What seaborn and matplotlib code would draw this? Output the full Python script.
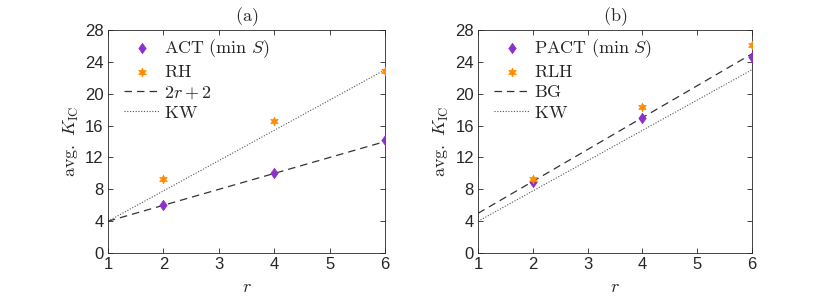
import matplotlib
matplotlib.use("Agg")
import matplotlib.pyplot as plt
import seaborn as sns
import pandas as pd

# ---- data ----
r_vals = [2, 4, 6]
act_min_s = [6.0, 10.0, 14.2]
rh = [9.3, 16.6, 22.9]
pact_min_s = [8.9, 16.9, 24.6]
rlh = [9.3, 18.3, 26.1]
line_r = [1, 6]
two_r_plus_2 = [4, 14]
kw = [4, 23]
bg = [5, 25]

x_ticks = [1, 2, 3, 4, 5, 6]
y_ticks = [0, 4, 8, 12, 16, 20, 24, 28]

sns.set_theme(style="white")
plt.rcParams["mathtext.fontset"] = "cm"
plt.rcParams["font.family"] = ["Liberation Sans", "DejaVu Sans"]

purple = "#8E2FCB"
orange = "#FF8C00"
edge = "#262626"
diamond = [(0, 1), (0.72, 0), (0, -1), (-0.72, 0), (0, 1)]

fig = plt.figure(figsize=(8.3, 3.05), dpi=100)
ax_a = fig.add_axes([0.130, 0.170, 0.334, 0.732])
ax_b = fig.add_axes([0.576, 0.170, 0.330, 0.732])

def panel(ax, pts1, lab1, pts2, lab2, dash_vals, dash_lab, title):
    df1 = pd.DataFrame({"r": r_vals, "v": pts1})
    df2 = pd.DataFrame({"r": r_vals, "v": pts2})
    dfd = pd.DataFrame({"r": line_r, "v": dash_vals})
    dfk = pd.DataFrame({"r": line_r, "v": kw})
    sns.lineplot(data=dfd, x="r", y="v", ax=ax, color="#333333", lw=0.9,
                 linestyle=(0, (6, 4)), label=dash_lab, zorder=2)
    sns.lineplot(data=dfk, x="r", y="v", ax=ax, color="#555555", lw=0.8,
                 linestyle=(0, (1, 1.5)), label=r"$\mathrm{KW}$", zorder=2)
    sns.scatterplot(data=df1, x="r", y="v", ax=ax, marker=diamond, color=purple,
                    s=55, edgecolor=purple, linewidth=0.5, label=lab1, zorder=3)
    sns.scatterplot(data=df2, x="r", y="v", ax=ax, marker=(6, 1, 0), color=orange,
                    s=40, edgecolor=orange, linewidth=0.5, label=lab2, zorder=3)
    ax.set_xlim(1, 6)
    ax.set_ylim(0, 28)
    ax.set_xticks(x_ticks)
    ax.set_yticks(y_ticks)
    ax.tick_params(direction="in", length=3.5, width=0.6, colors=edge,
                   labelsize=12, top=True, right=True, bottom=True, left=True,
                   labelcolor="#262626", pad=3)
    for s in ax.spines.values():
        s.set_color(edge)
        s.set_linewidth(0.6)
    ax.set_xlabel(r"$r$", fontsize=13, labelpad=5)
    ax.set_ylabel(r"$\mathrm{avg.}\ K_{\mathrm{IC}}$", fontsize=13, labelpad=3)
    ax.set_title(title, fontsize=13, pad=6)
    h, l = ax.get_legend_handles_labels()
    order = [2, 3, 0, 1]
    ax.legend([h[i] for i in order], [l[i] for i in order], loc="upper left",
              frameon=False, fontsize=13, handlelength=2.0, handletextpad=0.2,
              labelspacing=0.2, borderaxespad=0.5, bbox_to_anchor=(0.0, 1.04))

panel(ax_a, act_min_s, r"$\mathrm{ACT\ (min\ }S\mathrm{)}$", rh, r"$\mathrm{RH}$",
      two_r_plus_2, r"$2r+2$", r"$\mathrm{(a)}$")
panel(ax_b, pact_min_s, r"$\mathrm{PACT\ (min\ }S\mathrm{)}$", rlh, r"$\mathrm{RLH}$",
      bg, r"$\mathrm{BG}$", r"$\mathrm{(b)}$")

fig.savefig("out.png", dpi=100)
